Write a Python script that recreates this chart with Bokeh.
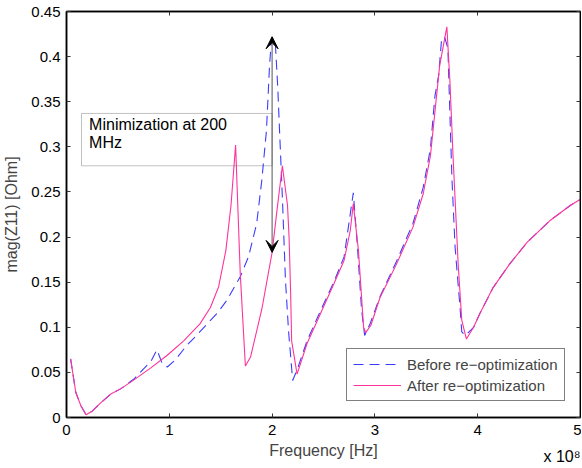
from bokeh.plotting import figure
from bokeh.models import (FixedTicker, LinearAxis, Range1d, Legend, LegendItem,
                          Arrow, VeeHead, BoxAnnotation, Label, Title)
from bokeh.embed import file_html
from bokeh.resources import INLINE

FONT = "Liberation Sans"

# Frequency in units of 1e8 Hz
x_before = [0.04, 0.09, 0.14, 0.19, 0.25, 0.33, 0.43, 0.53, 0.66, 0.75, 0.82, 0.88, 0.93, 0.98,
            1.06, 1.17, 1.24, 1.37, 1.47, 1.56, 1.69, 1.77, 1.85, 1.90, 1.945, 1.975, 1.995, 2.03,
            2.055, 2.075, 2.10, 2.13, 2.16, 2.20, 2.25, 2.34, 2.47, 2.60, 2.70, 2.79, 2.83, 2.87,
            2.90, 2.95, 3.05, 3.21, 3.37, 3.47, 3.54, 3.57, 3.585, 3.62, 3.65, 3.68, 3.71, 3.73,
            3.75, 3.78, 3.83, 3.845, 3.88, 3.96, 4.02, 4.15, 4.31, 4.48, 4.70, 4.90, 5.0]
y_before = [0.065, 0.028, 0.013, 0.003, 0.007, 0.016, 0.026, 0.032, 0.043, 0.054, 0.062, 0.075, 0.060, 0.056,
            0.064, 0.080, 0.088, 0.104, 0.116, 0.130, 0.156, 0.178, 0.215, 0.263, 0.318, 0.390, 0.421, 0.418,
            0.366, 0.311, 0.244, 0.152, 0.096, 0.041, 0.055, 0.085, 0.118, 0.150, 0.178, 0.249, 0.190, 0.120,
            0.091, 0.103, 0.134, 0.173, 0.215, 0.255, 0.298, 0.338, 0.357, 0.379, 0.421, 0.421, 0.409, 0.335,
            0.263, 0.189, 0.119, 0.095, 0.091, 0.100, 0.115, 0.144, 0.170, 0.194, 0.218, 0.235, 0.242]

x_after = [0.04, 0.09, 0.14, 0.19, 0.25, 0.33, 0.43, 0.53, 0.66, 0.82, 0.98, 1.14, 1.30, 1.40, 1.48,
           1.55, 1.60, 1.645, 1.69, 1.74, 1.79, 1.90, 2.00, 2.05, 2.10, 2.15, 2.165, 2.18, 2.19, 2.243,
           2.34, 2.47, 2.60, 2.70, 2.76, 2.79, 2.84, 2.89, 2.91, 2.96, 3.05, 3.21, 3.37, 3.47, 3.54,
           3.63, 3.70, 3.73, 3.76, 3.81, 3.845, 3.89, 3.96, 4.02, 4.15, 4.31, 4.48, 4.70, 4.90, 5.0]
y_after = [0.065, 0.028, 0.013, 0.003, 0.007, 0.016, 0.026, 0.032, 0.042, 0.055, 0.069, 0.085, 0.104, 0.122, 0.145,
           0.185, 0.235, 0.302, 0.160, 0.057, 0.067, 0.120, 0.183, 0.232, 0.279, 0.235, 0.200, 0.140, 0.085, 0.048,
           0.082, 0.115, 0.148, 0.174, 0.207, 0.237, 0.185, 0.100, 0.094, 0.102, 0.133, 0.170, 0.211, 0.248, 0.290,
           0.390, 0.433, 0.372, 0.290, 0.170, 0.108, 0.087, 0.100, 0.115, 0.144, 0.170, 0.194, 0.218, 0.235, 0.242]

x_ticks = [0, 1, 2, 3, 4, 5]
y_ticks = [0, 0.05, 0.1, 0.15, 0.2, 0.25, 0.3, 0.35, 0.4, 0.45]
y_tick_labels = ["0", "0.05", "0.1", "0.15", "0.2", "0.25", "0.3", "0.35", "0.4", "0.45"]

arrow_x = 2.0
arrow_y = [0.183, 0.422]

BLUE = "#3c3cff"
PINK = "#ff3399"

FW, FH = 514, 406

p = figure(frame_width=FW, frame_height=FH, x_range=Range1d(0, 5), y_range=Range1d(0, 0.45),
           output_backend="svg", toolbar_location=None,
           min_border_left=66, min_border_right=1, min_border_top=11, min_border_bottom=50)
p.xgrid.visible = False
p.ygrid.visible = False
p.outline_line_color = "black"
p.outline_line_width = 1.5
p.background_fill_color = "white"
p.border_fill_color = "white"

def style_axis(ax, ticks, show_labels=True):
    ax.ticker = FixedTicker(ticks=ticks)
    ax.major_tick_in = 4
    ax.major_tick_out = 0
    ax.minor_tick_in = 0
    ax.minor_tick_out = 0
    ax.axis_line_color = "black"
    ax.axis_line_width = 1.5
    ax.major_tick_line_color = "#333333"
    ax.major_tick_line_width = 1
    ax.major_label_text_font = FONT
    ax.major_label_text_color = "black"
    if show_labels:
        ax.major_label_text_font_size = "15px"
        ax.major_label_standoff = 7
    else:
        ax.major_label_overrides = {t: "" for t in ticks}
        ax.major_label_text_font_size = "1px"
        ax.major_label_standoff = 0

xa = p.xaxis[0]
style_axis(xa, x_ticks)
xa.axis_label = "Frequency [Hz]"
xa.axis_label_text_font = FONT
xa.axis_label_text_font_size = "16px"
xa.axis_label_text_font_style = "normal"
xa.axis_label_standoff = 4

ya = p.yaxis[0]
style_axis(ya, y_ticks)
ya.major_label_overrides = {t: s for t, s in zip(y_ticks, y_tick_labels)}
ya.major_label_standoff = 6
ya.axis_label = "mag(Z11) [Ohm]"
ya.axis_label_text_font = FONT
ya.axis_label_text_font_size = "16px"
ya.axis_label_text_font_style = "normal"
ya.axis_label_standoff = 8

top = LinearAxis()
style_axis(top, x_ticks, show_labels=False)
p.add_layout(top, "above")
right = LinearAxis()
style_axis(right, y_ticks, show_labels=False)
p.add_layout(right, "right")

r_before = p.line(x_before, y_before, line_color=BLUE, line_width=1.1, line_dash="10 6")
r_after = p.line(x_after, y_after, line_color=PINK, line_width=1.1)

box = BoxAnnotation(left=0.146, right=2.0, top=0.337, bottom=0.279,
                    fill_alpha=0, line_color="#333333", line_width=1)
p.add_layout(box)
p.add_layout(Label(x=0.22, y=0.315, text="Minimization at 200", text_font=FONT,
                   text_font_size="16px", text_color="black"))
p.add_layout(Label(x=0.22, y=0.295, text="MHz", text_font=FONT,
                   text_font_size="16px", text_color="black"))

p.add_layout(Arrow(x_start=arrow_x, y_start=arrow_y[0], x_end=arrow_x, y_end=arrow_y[1],
                   line_color="#555555", line_width=1,
                   start=VeeHead(size=12, fill_color="black", line_color="black"),
                   end=VeeHead(size=12, fill_color="black", line_color="black")))

legend = Legend(items=[LegendItem(label="Before re\u2212optimization", renderers=[r_before]),
                       LegendItem(label="After re\u2212optimization", renderers=[r_after])],
                location=(280, 16), label_text_font=FONT, label_text_font_size="15px",
                glyph_width=48, glyph_height=18, label_height=18, spacing=3,
                label_standoff=6, padding=6, margin=0,
                border_line_color="black", border_line_width=1,
                background_fill_color="white", background_fill_alpha=1)
p.add_layout(legend)

# "x 10^8" exponent note at the right end of the x axis, as a right-aligned title
# pulled up (negative standoff) to share the axis label's row.
exp_note = Title(text="x 10\u2078", align="right", vertical_align="top", offset=0,
                 standoff=-28, text_font=FONT, text_font_size="16px",
                 text_font_style="normal", text_color="black")
p.add_layout(exp_note, "below")

open("out.html", "w").write(file_html(p, INLINE))
